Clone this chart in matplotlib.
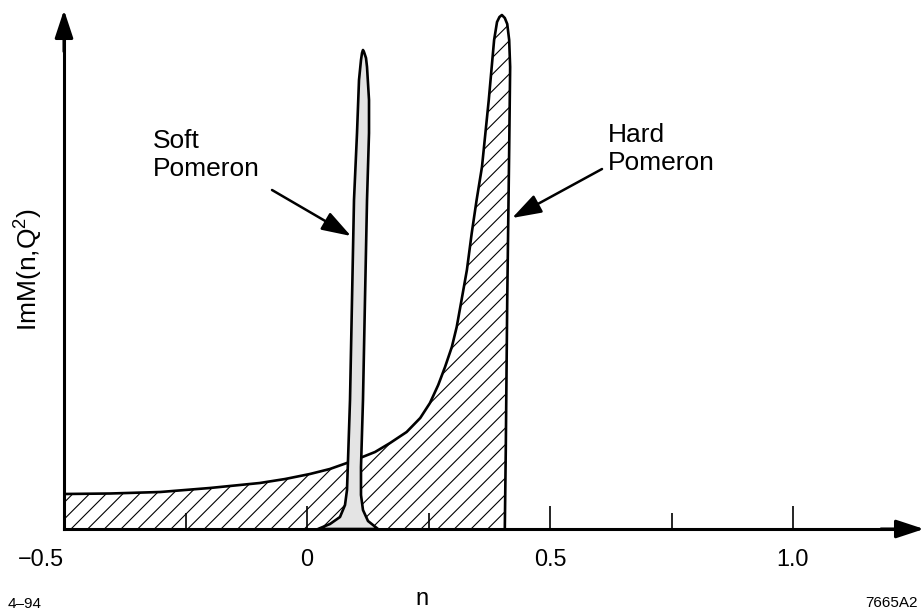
import matplotlib
matplotlib.use('Agg')
import matplotlib.pyplot as plt

# -------------------------[Data]-------------------------
# Hard Pomeron outline, n and ImM in arbitrary units
hard_n = [-0.5, -0.405, -0.302, -0.200, -0.097, -0.045, 0.006, 0.047, 0.082, 0.109,
          0.140, 0.171, 0.205, 0.233, 0.253, 0.270, 0.284, 0.298, 0.308, 0.318,
          0.329, 0.339, 0.349, 0.360, 0.374, 0.385, 0.391, 0.396, 0.401, 0.407,
          0.412, 0.416, 0.418, 0.416, 0.412, 0.409, 0.407]
hard_y = [0.35, 0.355, 0.37, 0.41, 0.46, 0.50, 0.55, 0.60, 0.66, 0.71,
          0.77, 0.86, 0.97, 1.11, 1.26, 1.44, 1.62, 1.82, 2.02, 2.29,
          2.59, 2.96, 3.29, 3.62, 4.29, 4.89, 5.07, 5.12, 5.14, 5.11,
          5.05, 4.89, 4.62, 3.79, 2.29, 0.79, 0.0]

# Soft Pomeron outline (narrow spike)
soft_n = [0.0226, 0.0473, 0.0679, 0.0782, 0.0823, 0.0844, 0.0885, 0.0926, 0.0967, 0.1029,
          0.1070, 0.1111, 0.1132, 0.1152, 0.1173, 0.1214, 0.1235, 0.1276, 0.1276, 0.1235,
          0.1193, 0.1152, 0.1111, 0.1111, 0.1152, 0.1255, 0.1461]
soft_y = [0.0, 0.05, 0.12, 0.24, 0.39, 0.69, 1.29, 2.29, 3.29, 3.96,
          4.49, 4.69, 4.76, 4.79, 4.77, 4.71, 4.62, 4.29, 3.96, 3.29,
          2.29, 1.29, 0.62, 0.34, 0.19, 0.08, 0.0]

major_ticks = [-0.5, 0, 0.5, 1.0]
major_labels = ['\u22120.5', '0', '0.5', '1.0']
minor_ticks = [-0.25, 0.25, 0.75]
# --------------------------------------------------------

plt.rcParams['font.family'] = ['Liberation Sans', 'DejaVu Sans']
plt.rcParams['mathtext.fontset'] = 'custom'
plt.rcParams['mathtext.rm'] = 'Liberation Sans'
plt.rcParams['mathtext.default'] = 'regular'
plt.rcParams['hatch.linewidth'] = 0.8

fig = plt.figure(figsize=(9.24, 6.11), dpi=100)
ax = fig.add_axes([64 / 924, 82 / 611, 860 / 924, 519 / 611])
ax.set_xlim(-0.5, -0.5 + 860 / 486)
ax.set_ylim(0, 5.19)

# Hatched hard Pomeron area and its outline
ax.fill(hard_n + [hard_n[0]], hard_y + [0.0], facecolor='white', edgecolor='black',
        hatch='//', linewidth=0, zorder=1)
ax.plot(hard_n, hard_y, color='black', lw=1.9, solid_joinstyle='round', zorder=2)

# Grey soft Pomeron spike
ax.fill(soft_n, soft_y, facecolor='#e4e4e4', edgecolor='black', lw=1.9,
        joinstyle='round', zorder=3)

# Axes: only left and bottom, with arrow heads
for s in ['top', 'right']:
    ax.spines[s].set_visible(False)
ax.spines['bottom'].set_linewidth(2.2)
ax.spines['left'].set_linewidth(2.2)
ax.spines['bottom'].set_bounds(-0.5, 1.23)
ax.spines['left'].set_bounds(0, 4.95)
ax.spines['bottom'].set_zorder(4)
ax.spines['left'].set_zorder(4)

head = '-|>,head_length=0.85,head_width=0.28'
ax.annotate('', xy=(1, 0), xytext=(0.95, 0), xycoords='axes fraction',
            arrowprops=dict(arrowstyle=head, color='black', lw=2.2, mutation_scale=20,
                            shrinkA=0, shrinkB=0))
ax.annotate('', xy=(0, 1), xytext=(0, 0.92), xycoords='axes fraction',
            arrowprops=dict(arrowstyle=head, color='black', lw=2.2, mutation_scale=20,
                            shrinkA=0, shrinkB=0))

# Ticks
ax.set_xticks(major_ticks, major_labels)
ax.set_xticks(minor_ticks, minor=True)
ax.set_yticks([])
ax.tick_params(axis='x', which='major', direction='in', length=16.5, width=1.2,
               labelsize=16.8, pad=14)
ax.tick_params(axis='x', which='minor', direction='in', length=11.5, width=1.2)
ax.get_xticklabels()[0].set_horizontalalignment('right')

ax.set_ylabel('ImM(n,Q$^2$)', fontsize=19, labelpad=14)

# Labels with arrows
ax.text(-0.317, 4.0, 'Soft\nPomeron', fontsize=19, va='top', ha='left')
ax.annotate('', xy=(0.0905, 2.93), xytext=(-0.072, 3.39),
            arrowprops=dict(arrowstyle='-|>,head_length=0.9,head_width=0.3', color='black',
                            lw=1.8, mutation_scale=20, shrinkA=0, shrinkB=0))
ax.text(0.619, 4.06, 'Hard\nPomeron', fontsize=19, va='top', ha='left')
ax.annotate('', xy=(0.422, 3.11), xytext=(0.607, 3.60),
            arrowprops=dict(arrowstyle='-|>,head_length=0.9,head_width=0.3', color='black',
                            lw=1.8, mutation_scale=20, shrinkA=0, shrinkB=0))

# Axis name and figure codes
fig.text(422 / 924, 1 - 605 / 611, 'n', fontsize=17, ha='center', va='baseline')
fig.text(8 / 924, 1 - 608 / 611, '4\u201394', fontsize=11, ha='left', va='baseline')
fig.text(918 / 924, 1 - 607 / 611, '7665A2', fontsize=11, ha='right', va='baseline')

fig.savefig('out.png', dpi=100)
